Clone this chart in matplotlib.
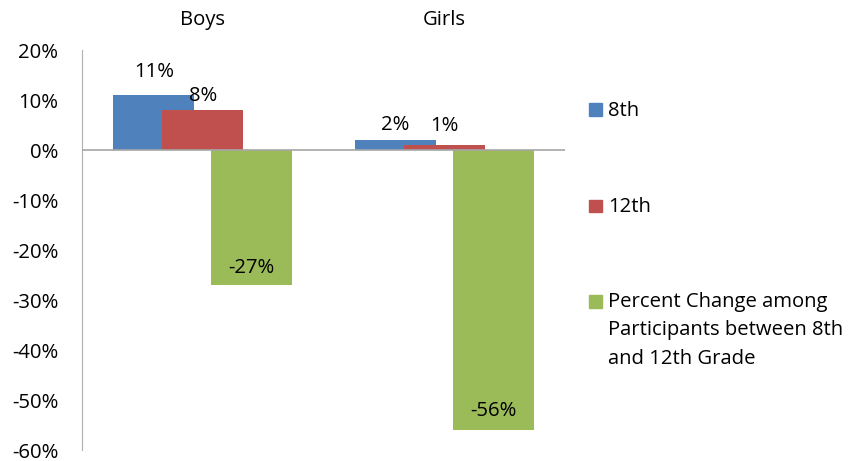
import numpy as np
import matplotlib
matplotlib.use("Agg")
import matplotlib.pyplot as plt
from matplotlib.patches import Rectangle
from matplotlib.ticker import FuncFormatter

plt.rcParams["font.family"] = ["Open Sans", "DejaVu Sans"]
plt.rcParams["axes.unicode_minus"] = False

groups = ["Boys", "Girls"]
series = ["8th", "12th", "Percent Change among\nParticipants between 8th\nand 12th Grade"]
values = {
    "8th": [11, 2],
    "12th": [8, 1],
    "change": [-27, -56],
}
colors = ["#4F81BD", "#C0504D", "#9BBB59"]
# per-label vertical nudges in pixels (labels were hand-placed in the source sheet)
nudge = {"8th": [23, 15], "12th": [14, 19], "change": [17, 19]}

W, H = 855, 461
fig = plt.figure(figsize=(W / 100, H / 100), dpi=100)
ax = fig.add_axes([82 / W, 11 / H, 483 / W, 400 / H])

x = np.arange(len(groups))
width, step = 0.335, 0.203
fs = 14.6
for k, key in enumerate(values):
    vals = np.array(values[key])
    xs = x + (k - 1) * step
    ax.bar(xs, vals, width, color=colors[k], zorder=2 + k)
    for xi, v, dy in zip(xs, vals, nudge[key]):
        ax.annotate(f"{v:d}%", (xi, v), xytext=(0, dy),
                    textcoords="offset pixels", ha="center", va="center",
                    fontsize=fs, zorder=10)

ax.set_xlim(-0.5, 1.5)
ax.set_ylim(-60, 20)
ax.set_yticks(np.arange(-60, 21, 10))
ax.yaxis.set_major_formatter(FuncFormatter(lambda v, _: f"{v:.0f}%"))
ax.tick_params(axis="y", length=0, pad=17, labelsize=fs)
ax.set_xticks([])
for s in ["top", "right", "bottom"]:
    ax.spines[s].set_visible(False)
ax.spines["left"].set_color("#B0B0B0")
ax.axhline(0, color="#A6A6A6", lw=1.2, zorder=6)

# category labels across the top
for xi, g in zip(x, groups):
    ax.text(xi, 1 + 30 / 400, g, transform=ax.get_xaxis_transform(),
            ha="center", va="center", fontsize=fs)

# legend on the right, one entry per series
ys = [110, 206, 301]
for c, lab, yy in zip(colors, series, ys):
    fig.add_artist(Rectangle((589 / W, 1 - (yy + 6.5) / H), 13 / W, 13 / H,
                             color=c, transform=fig.transFigure))
    fig.text(608 / W, 1 - (yy - 9) / H, lab, ha="left", va="top",
             fontsize=fs, linespacing=1.55)

fig.savefig("out.png", dpi=100)
